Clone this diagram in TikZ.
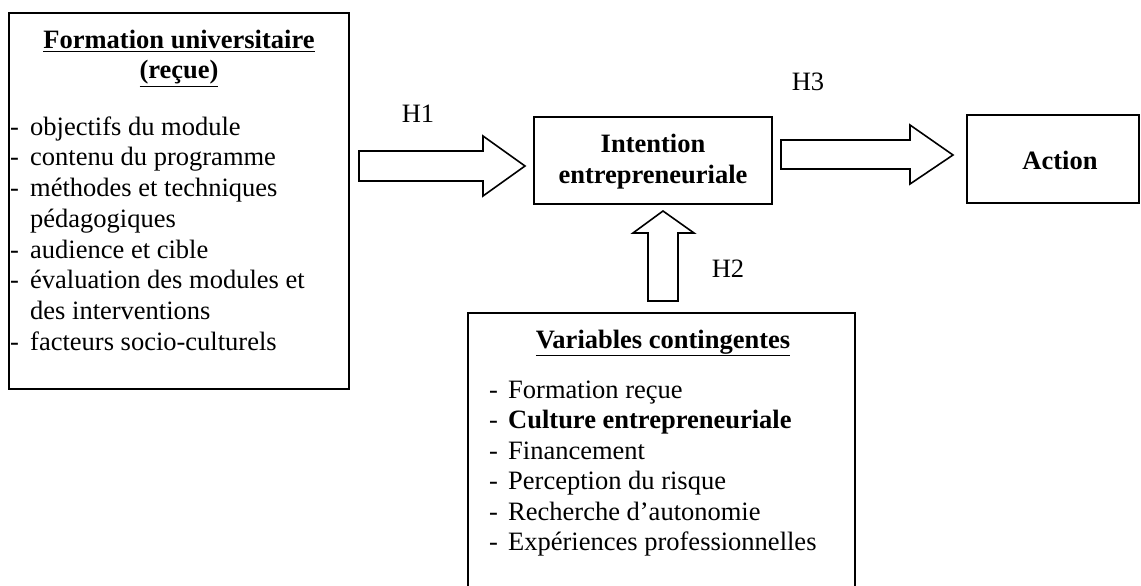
\documentclass[tikz,border=0pt]{standalone}
\usepackage{fontspec}
\setmainfont{Liberation Serif}
\begin{document}
\begin{tikzpicture}[x=1pt,y=-1pt,
  box/.style={draw, line width=1.6pt, inner sep=0pt},
  txt/.style={anchor=base west, inner sep=0pt, font=\fontsize{26.5}{31}\selectfont},
  ctxt/.style={anchor=base, inner sep=0pt, font=\fontsize{26.5}{31}\selectfont},
  btxt/.style={anchor=base, inner sep=0pt, font=\fontsize{26.5}{31}\selectfont\bfseries},
  blockarrow/.style={draw, line width=1.6pt, line join=miter, fill=white}]
\useasboundingbox (0,0) rectangle (1141,586);
\clip (0,0) rectangle (1141,586);
% boxes
\node[box, minimum width=340pt, minimum height=376pt] (form) at (179,201) {};
\node[box, minimum width=238pt, minimum height=87pt] (int) at (653,160.5) {};
\node[box, minimum width=172pt, minimum height=88pt] (act) at (1053,159) {};
\node[box, minimum width=387pt, minimum height=300pt] (var) at (661.5,463) {};
% left box text
\node[btxt] (ft1) at (179,49) {\underline{Formation universitaire}};
\node[btxt] (ft2) at (179,79) {\underline{(reçue)}};
\foreach \t [count=\i from 0] in {objectifs du module, contenu du programme, méthodes et techniques, pédagogiques, audience et cible, évaluation des modules et, des interventions, facteurs socio-culturels}{
  \node[txt] (fl\i) at (30,135+30.75*\i) {\t};
}
\foreach \i in {0,1,2,4,5,7}{
  \node[txt] (fd\i) at (10,135+30.75*\i) {-};
}
% intention
\node[btxt] (it1) at (653,152) {Intention};
\node[btxt] (it2) at (653,183) {entrepreneuriale};
% action
\node[btxt] (at) at (1060,169) {Action};
% variables box
\node[btxt] (vt) at (663,348) {\underline{Variables contingentes}};
\foreach \t [count=\i from 0] in {Formation reçue, \textbf{Culture entrepreneuriale}, Financement, Perception du risque, Recherche d’autonomie, Expériences professionnelles}{
  \node[txt] (vl\i) at (508,398+30.5*\i) {\t};
  \node[txt] (vd\i) at (489,398+30.5*\i) {-};
}
% block arrows
\draw[blockarrow] (359,151) -- (483,151) -- (483,136) -- (525,166) -- (483,196) -- (483,181) -- (359,181) -- cycle;
\draw[blockarrow] (648,301) -- (648,233) -- (633,233) -- (663,211) -- (694,233) -- (678,233) -- (678,301) -- cycle;
\draw[blockarrow] (781,140) -- (910,140) -- (910,125) -- (953,155) -- (910,184) -- (910,169) -- (781,169) -- cycle;
% labels
\node[ctxt] (h1) at (418,122) {H1};
\node[ctxt] (h2) at (728,277) {H2};
\node[ctxt] (h3) at (808,91) {H3};
\end{tikzpicture}
\end{document}
